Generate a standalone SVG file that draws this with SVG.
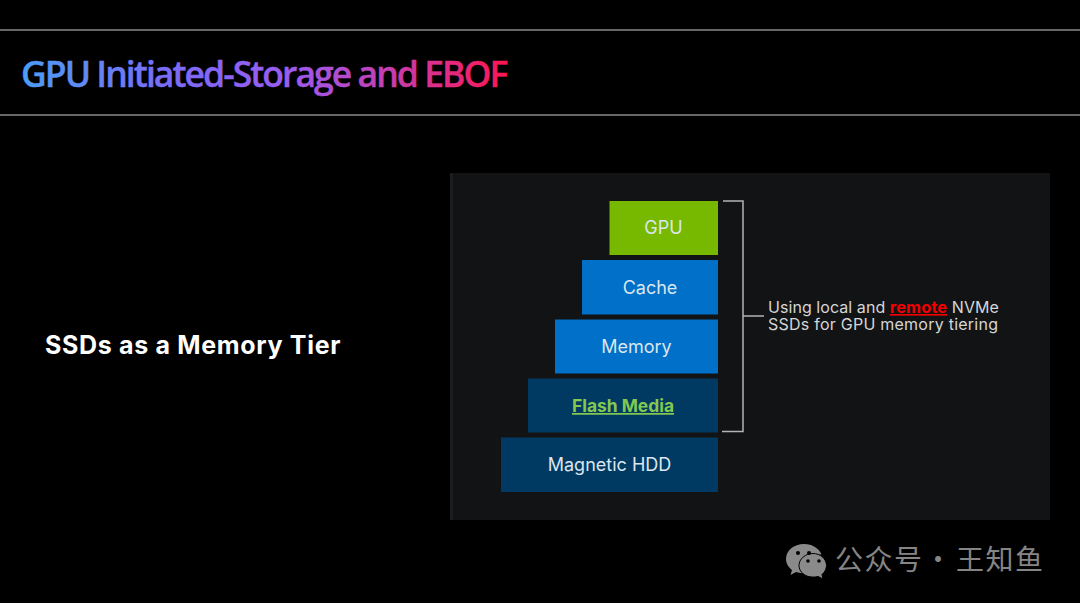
<svg xmlns="http://www.w3.org/2000/svg" width="1080" height="603" viewBox="0 0 1080 603">
<style>
.t{font-family:"Inter","Liberation Sans",sans-serif;font-size:18px;fill:#dce6ee;text-anchor:middle}
.d{font-family:"Inter","Liberation Sans",sans-serif;font-size:16px;fill:#d6d6d6}
.l{stroke:#8a8a8a;stroke-width:1.6;fill:none}
.b{stroke:#b4b4b4;stroke-width:1.5;fill:none}
.w{font-family:"Noto Sans CJK SC",sans-serif;font-size:28px;fill:#858585}
</style>
<defs>
<linearGradient id="g" gradientUnits="userSpaceOnUse" x1="22" y1="0" x2="508" y2="0">
<stop offset="0" stop-color="#4b9df5"/><stop offset=".3" stop-color="#7a6cf8"/><stop offset=".55" stop-color="#9a5cf0"/><stop offset=".75" stop-color="#c53fb0"/><stop offset="1" stop-color="#ff1650"/>
</linearGradient>
</defs>
<rect width="1080" height="603" fill="#000"/>
<line class="l" x1="0" y1="30" x2="1080" y2="30"/>
<line class="l" x1="0" y1="115" x2="1080" y2="115"/>
<text id="title" x="21" y="87" font-family="'Open Sans',sans-serif" font-weight="600" font-size="35.500px" letter-spacing="-1.95" fill="url(#g)" stroke="url(#g)" stroke-width=".4">GPU Initiated-Storage and EBOF</text>
<text id="subtitle" x="45" y="354" font-family="Inter,'Liberation Sans',sans-serif" font-weight="700" font-size="25px" letter-spacing=".67" fill="#fff">SSDs as a Memory Tier</text>
<rect x="450" y="173" width="600" height="347" fill="#121315"/>
<rect x="450" y="173" width="3" height="347" fill="#1c1d20"/>
<g id="gpu"><rect x="609.500" y="201" width="108.500" height="54" fill="#76b900"/><text class="t" x="663.500" y="234">GPU</text></g>
<g id="cache"><rect x="582" y="260" width="136" height="54.500" fill="#0070c8"/><text class="t" x="650" y="293.500">Cache</text></g>
<g id="memory"><rect x="555" y="319.500" width="163" height="54" fill="#0070c8"/><text class="t" x="636.500" y="352.500">Memory</text></g>
<g id="flash"><rect x="528" y="378.500" width="190" height="54" fill="#003a63"/><text class="t" x="623" y="412" font-weight="700" text-decoration="underline" style="fill:#84c850;font-size:17.400px">Flash Media</text></g>
<g id="hdd"><rect x="501" y="437.500" width="217" height="54.500" fill="#003a63"/><text class="t" x="609.500" y="471">Magnetic HDD</text></g>
<g id="connectors"><path class="b" d="M723 201H743V431.500H722M743 316H764"/></g>
<g id="note">
<text class="d" x="768" y="313" letter-spacing=".06">Using local and <tspan font-weight="700" fill="#f00000" text-decoration="underline" font-size="16.500px">remote</tspan> NVMe</text>
<text class="d" x="768" y="330" letter-spacing=".24">SSDs for GPU memory tiering</text>
</g>
<g id="watermark">
<path fill="#8a8a8a" d="M804 544c-10 0-18 6.500-18 15 0 4.500 2.500 8.500 6 11l-1.500 5 5.500-3c2 .6 4 1 6 1 .8 0 1.600 0 2.400-.1-.5-1.500-.8-3-.8-4.500 0-7.800 7.400-14 16.400-14 .5 0 1 0 1.500.1C819.500 549 812.500 544 804 544z"/>
<path fill="#8a8a8a" stroke="#000" d="M812 567.500c0-6.500 6.300-12 14-12 7.500 0 13.500 5.500 13.500 12 0 3.500-1.800 6.700-4.500 9l1 4.500-5-2.500c-1.500.4-3 .6-5 .6-7.700 0-14-5-14-11.600z" transform="translate(-13 -2)"/>
<circle cx="798" cy="553" r="2" fill="#000"/><circle cx="809" cy="553" r="2" fill="#000"/><circle cx="808" cy="561" r="1.800" fill="#000"/><circle cx="819" cy="561" r="1.800" fill="#000"/>
<text class="w" x="835" y="570" letter-spacing="1.500">公众号</text>
<text class="w" x="924" y="570">·</text>
<text class="w" x="956" y="570" letter-spacing="1.500">王知鱼</text>
</g>
</svg>
